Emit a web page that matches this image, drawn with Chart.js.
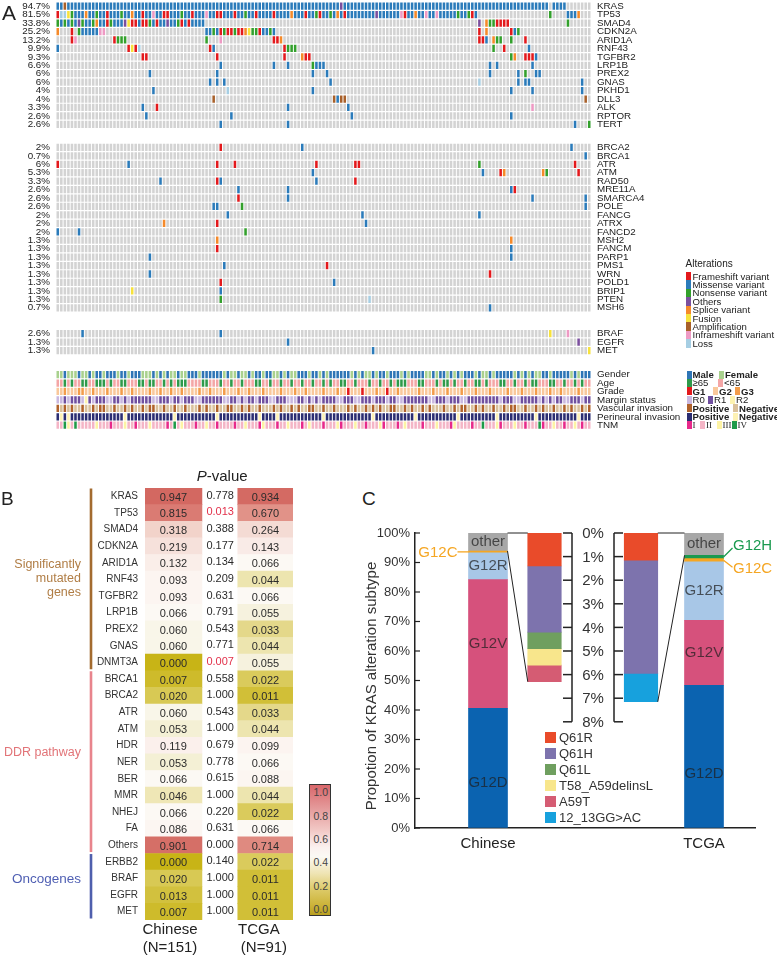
<!DOCTYPE html>
<html lang="en">
<head>
<meta charset="utf-8">
<title>KRAS oncoprint and comparison</title>
<script src="https://cdn.jsdelivr.net/npm/chart.js"></script>
<style>
  html,body{margin:0;padding:0;background:#fff;}
  body{position:relative;width:777px;height:959px;overflow:hidden;font-family:"Liberation Sans",Arial,Helvetica,sans-serif;color:#222;}
  canvas{position:absolute;}
  .t{position:absolute;white-space:nowrap;line-height:1;}
  .sq{position:absolute;}
</style>
</head>
<body>
<canvas id="cA" width="777" height="436" style="left:0;top:0"></canvas>
<canvas id="cB" width="345" height="500" style="left:0;top:460px"></canvas>
<canvas id="cC" width="417" height="345" style="left:360px;top:510px"></canvas>
<div id="ov"></div>
<script>
const FONT = '"Liberation Sans", Arial, Helvetica, sans-serif';
Chart.defaults.font.family = FONT;
Chart.defaults.color = '#222';

/* ================= PANEL A DATA ================= */
const N_SAMPLES = 151;
const sampleIds = Array.from({length: N_SAMPLES}, (_, i) => 'P' + (i + 1));

const genesSMG = ['KRAS','TP53','SMAD4','CDKN2A','ARID1A','RNF43','TGFBR2','LRP1B','PREX2','GNAS','PKHD1','DLL3','ALK','RPTOR','TERT'];
const pctSMG = ['94.7%','81.5%','33.8%','25.2%','13.2%','9.9%','9.3%','6.6%','6%','6%','4%','4%','3.3%','2.6%','2.6%'];
const altSMG = [
  [[0,'MMAMMMMMMM MMMMMMMMMM MMMMMMMMMM MMMMMMMMMM MMMMMMMMMM MMMMMMMMMM MMMMMMMMMM MMMMMMMMMM OMMMMMMMMM MMMMMMMMMM MMMMMMMMMM MMMMMMMMMM MMMMMMMMMM MMMMMMMMM'],[140,'MMMM']],
  [[0,'FLLUNMMMSM MNMMFMMMNM MSMMFMMIMM FFMMMNMMFM MMIMMFFMMM FMMNMMFMMM MFMMMMSMMM FMMNFMMNMS MFMMMMMMMM OMMMMMMIFM MSMMIMMIMM MMMNMMNFM'],[139,'N....MMMS']],
  [[0,'NMNMNMONMM NSMMFNMMMO UFFMFFNMFM MOMMNFMFMM MM'],[119,'O.SNNFFFF'],[144,'N']],
  [[0,'S'],[4,'F.NMMMMMII'],[42,'MMNMFNFFNF FSUNNFMMNM'],[119,'F.S'],[128,'FMN']],
  [[4,'FI'],[16,'FNNN'],[42,'N'],[46,'I'],[61,'FFS'],[119,'FFM'],[123,'SN'],[125,'N'],[128,'N'],[132,'F']],
  [[0,'M'],[20,'FUFL'],[43,'FM'],[64,'FNNN'],[123,'N'],[126,'F'],[133,'M']],
  [[24,'FF'],[45,'F'],[64,'F'],[69,'SFF'],[128,'NS'],[132,'FFF'],[135,'M']],
  [[46,'M'],[61,'M'],[65,'M'],[72,'NMMM'],[122,'M'],[124,'M'],[134,'M']],
  [[26,'M'],[45,'M'],[72,'M'],[76,'M'],[122,'M'],[130,'M'],[132,'N'],[135,'MM']],
  [[43,'M'],[45,'M'],[47,'M'],[77,'M'],[119,'L'],[130,'M'],[132,'MM'],[148,'M']],
  [[27,'M'],[48,'L'],[72,'M'],[128,'M'],[134,'M'],[148,'M']],
  [[44,'A'],[78,'AMAA'],[149,'A']],
  [[24,'M'],[28,'F'],[65,'M'],[82,'M'],[134,'I']],
  [[25,'M'],[49,'M'],[83,'M'],[128,'M']],
  [[46,'M'],[65,'M'],[146,'M'],[150,'N']]
];

const genesDDR = ['BRCA2','BRCA1','ATR','ATM','RAD50','MRE11A','SMARCA4','POLE','FANCG','ATRX','FANCD2','MSH2','FANCM','PARP1','PMS1','WRN','POLD1','BRIP1','PTEN','MSH6'];
const pctDDR = ['2%','0.7%','6%','5.3%','3.3%','2.6%','2.6%','2.6%','2%','2%','2%','1.3%','1.3%','1.3%','1.3%','1.3%','1.3%','1.3%','1.3%','0.7%'];
const altDDR = [
  [[46,'F'],[69,'M'],[145,'M']],
  [[149,'M']],
  [[0,'F'],[20,'M'],[45,'F'],[50,'F'],[73,'F'],[84,'FF'],[119,'N'],[146,'F']],
  [[72,'M'],[120,'M'],[125,'FS'],[137,'SN'],[147,'F']],
  [[29,'M'],[45,'FM'],[73,'M'],[84,'F']],
  [[51,'M'],[65,'M'],[128,'MF']],
  [[51,'F'],[65,'M'],[134,'M'],[149,'M']],
  [[44,'MM'],[52,'N'],[149,'M']],
  [[48,'M'],[86,'M'],[119,'M']],
  [[30,'S'],[45,'F'],[87,'M']],
  [[0,'M'],[6,'M'],[53,'N']],
  [[45,'S'],[128,'S']],
  [[45,'F'],[128,'M']],
  [[26,'M'],[128,'M']],
  [[47,'M'],[76,'F']],
  [[26,'M'],[122,'F']],
  [[46,'F'],[78,'M']],
  [[21,'U'],[46,'M']],
  [[46,'N'],[88,'L']],
  [[122,'M']]
];

const genesOnc = ['BRAF','EGFR','MET'];
const pctOnc = ['2.6%','1.3%','1.3%'];
const altOnc = [
  [[7,'M'],[46,'M'],[139,'U'],[144,'I']],
  [[65,'M'],[147,'O']],
  [[89,'M'],[150,'U']]
];

const altTypes  = ['F','M','N','O','S','U','A','I','L'];
const altLabels = ['Frameshift variant','Missense variant','Nonsense variant','Others','Splice variant','Fusion','Amplification','Inframeshift variant','Loss'];
const altColors = ['#e3191c','#2b7bba','#33a02c','#7b4f9e','#f58a2a','#f7e23b','#a8602a','#ee9ac4','#a6cee3'];

const annoNames = ['Gender','Age','Grade','Margin status','Vascular invasion','Perineural invasion','TNM'];
const annoTracks = [
  'ffmfffmffm fmmfmmmfmm fmmmfffmfm fmffmffmmm fmmmmmmfmf fmffmfmmfm mffmfmffmm mfmmfmfmmm mmmfmfmffm fmmfmmmfmf mmmmffmfmm fmfmfmmmfm ffmfmmmmmf mfmfmffmmf mmmmmfmfmm m',
  'yyoyoyyooy yoooyoyyoo yyyooyooyy oyoyoooyyy yooyyyoyyo yyoyyyooyy oyyoyyoyyo yyoyyoyoyy ooyyoyyyoy yoyyoyoooy yyooyyyoyo oyoyyoyyoo yoyyyooyyo yyoyooyyyo oyyoyyoyoy y',
  '2232223322 3222322232 2322223223 2232232222 3223222322 2322322232 2223222322 3222232223 2212221222 3221223222 2232223222 3222322232 2232222322 2322232223 2232222322 2',
  'aababbbacb abbbaabbab abbbbbbaab bbabbabbba abbbbbbaab bababbabbb aabbbaaabb abababbbba abbbaabbba bbbabbaabb bbbbbaabbb abbbaabbbb bbbbbabbba abbbbbabab abbaabbbab b',
  'pnpnpnnpnn pnppnnpnnp npnnpnppnn pnnpnnpnnn pnpnnpnnpp nnpnpnnpnn npnpnnpnpn nppnnpnnpn nnpnpnnpnp npnnppnnpn pnnpnpnnnp nnpnppnnpn pnnpnnpnpp nnpnnpnpnn pnnpnpnnpn p',
  'pnpnpppppp pppppppppn pppppppppp pppnpppppp pppppnpppp pppppppnpp ppnppppppp pppppnpppp pppppppppn pppppppppp pnpppppppp pppnpppppp ppppnppppp pppppnpppp pppppppnpp p',
  '2243242222 2322212223 2212223222 2124232221 2232212222 1223222132 2212232221 2322212223 1222322122 2312221232 2221222322 2132222122 4222312223 2212224122 3221223212 2'
];
const annoCodes  = [['m','f'],['o','y'],['1','2','3'],['a','b','c'],['p','n'],['p','n'],['1','2','3','4']];
const annoLabels = [['Male','Female'],['\u226565','<65'],['G1','G2','G3'],['R0','R1','R2'],['Positive','Negative'],['Positive','Negative'],['I','II','III','IV']];
const annoColors = [
  ['#2e75b6','#a9d18e'],
  ['#2e9a4a','#f4a6a6'],
  ['#e3191c','#f9c89b','#f39c4a'],
  ['#c9b8e0','#6f4f9f','#fdf3b0'],
  ['#b0622b','#d9c09a'],
  ['#2b2d72','#fdf1b4'],
  ['#e7298a','#f4b5c6','#fdf3a4','#1f9a48']
];
const annoBold = [true,false,true,false,true,true,false];

/* ================= PANEL B DATA ================= */
const genesB = ['KRAS','TP53','SMAD4','CDKN2A','ARID1A','RNF43','TGFBR2','LRP1B','PREX2','GNAS','DNMT3A','BRCA1','BRCA2','ATR','ATM','HDR','NER','BER','MMR','NHEJ','FA','Others','ERBB2','BRAF','EGFR','MET'];
const chineseP = [0.947,0.815,0.318,0.219,0.132,0.093,0.093,0.066,0.060,0.060,0.000,0.007,0.020,0.060,0.053,0.119,0.053,0.066,0.046,0.066,0.086,0.901,0.000,0.020,0.013,0.007];
const pValues  = [0.778,0.013,0.388,0.177,0.134,0.209,0.631,0.791,0.543,0.771,0.007,0.558,1.000,0.543,1.000,0.679,0.778,0.615,1.000,0.220,0.631,0.000,0.140,1.000,1.000,1.000];
const tcgaP    = [0.934,0.670,0.264,0.143,0.066,0.044,0.066,0.055,0.033,0.044,0.055,0.022,0.011,0.033,0.044,0.099,0.066,0.088,0.044,0.022,0.066,0.714,0.022,0.011,0.011,0.011];
const colLabelsB = [['Chinese','(N=151)'],['TCGA','(N=91)']];
const colorbarTicks = ['1.0','0.8','0.6','0.4','0.2','0.0'];

/* ================= PANEL C DATA ================= */
const kMain = ['G12D','G12V','G12R','G12C','G12H','other'];
const kMainChinese = [40.6, 43.6, 9.1, 0.6, 0, 6.1];
const kMainTCGA    = [48.4, 22.0, 19.8, 1.1, 1.1, 7.6];
const kInset = ['Q61R','Q61H','Q61L','T58_A59delinsL','A59T','12_13GG>AC'];
const kInsetChinese = [1.4, 2.8, 0.7, 0.7, 0.7, 0];
const kInsetTCGA    = [1.15, 4.8, 0, 0, 0, 1.2];
const cohortsC = ['Chinese','TCGA'];
const mainTickPct = 10;
const insetTicks = [0,1,2,3,4,5,6,7,8];

/* ================= HELPERS ================= */
const ov = document.getElementById('ov');
function addText(txt, x, cy, size, o = {}) {
  const d = document.createElement('div');
  d.className = 't'; d.textContent = txt;
  d.style.left = x + 'px'; d.style.top = (cy - size / 2) + 'px'; d.style.fontSize = size + 'px';
  if (o.bold) d.style.fontWeight = 'bold';
  if (o.color) d.style.color = o.color;
  if (o.family) d.style.fontFamily = o.family;
  ov.appendChild(d); return d;
}
function addBox(x, y, w, h, color, border) {
  const d = document.createElement('div');
  d.className = 'sq';
  Object.assign(d.style, {left: x + 'px', top: y + 'px', width: w + 'px', height: h + 'px', background: color});
  if (border) { d.style.border = border; d.style.boxSizing = 'border-box'; }
  ov.appendChild(d); return d;
}

/* ================= PANEL A CHART ================= */
const GREY = '#d3d3d3';
const CELL_PAD = 0.07;
const blockTops = [0, 16.73, 38.8];
const annoTop = 43.65;
const Y_MAX_A = 50.75;

function expandRow(segs) {
  const out = new Array(N_SAMPLES).fill('.');
  segs.forEach(([start, s]) => {
    const str = s.replace(/\s/g, '');
    for (let k = 0; k < str.length; k++) {
      const c = start + k;
      if (c < N_SAMPLES && str[k] !== '.') out[c] = str[k];
    }
  });
  return out;
}
const rowsA = [];
[[genesSMG, pctSMG, altSMG], [genesDDR, pctDDR, altDDR], [genesOnc, pctOnc, altOnc]].forEach(([g, p, a], b) => {
  g.forEach((name, i) => rowsA.push({
    name, pct: p[i], top: blockTops[b] + i,
    colors: expandRow(a[i]).map(c => c === '.' ? GREY : altColors[altTypes.indexOf(c)])
  }));
});
annoNames.forEach((name, i) => {
  const codes = annoTracks[i].replace(/\s/g, '').split('');
  rowsA.push({
    name, pct: '', top: annoTop + i,
    colors: sampleIds.map((_, j) => annoColors[i][annoCodes[i].indexOf(codes[j])] || GREY)
  });
});
const leftRows = rowsA.filter(r => r.pct);

const chartA = new Chart(document.getElementById('cA'), {
  type: 'bar',
  data: {
    labels: sampleIds,
    datasets: rowsA.map(r => ({
      label: r.name,
      data: sampleIds.map(() => [r.top + CELL_PAD, r.top + 1 - CELL_PAD]),
      backgroundColor: r.colors,
      borderWidth: 0, grouped: false, barPercentage: 0.72, categoryPercentage: 1
    }))
  },
  options: {
    responsive: false, animation: false, events: [],
    layout: {padding: {top: 2, bottom: 5.7, left: 0, right: 0}},
    plugins: {legend: {display: false}, tooltip: {enabled: false}},
    scales: {
      x: {type: 'category', display: false, offset: true},
      y: {
        type: 'linear', position: 'left', min: 0, max: Y_MAX_A, reverse: true,
        grid: {display: false, drawTicks: false}, border: {display: false},
        afterBuildTicks(s) { s.ticks = leftRows.map(r => ({value: r.top + 0.5})); },
        afterFit(s) { s.width = 56; s.paddingTop = 0; s.paddingBottom = 0; },
        ticks: {autoSkip: false, padding: 6, color: '#222', font: {size: 9.8}, callback: (v, i) => leftRows[i] ? leftRows[i].pct : ''}
      },
      yR: {
        type: 'linear', position: 'right', min: 0, max: Y_MAX_A, reverse: true,
        grid: {display: false, drawTicks: false}, border: {display: false},
        afterBuildTicks(s) { s.ticks = rowsA.map(r => ({value: r.top + 0.5})); },
        afterFit(s) { s.width = 186; s.paddingTop = 0; s.paddingBottom = 0; },
        ticks: {autoSkip: false, padding: 6, color: '#222', font: {size: 9.8}, callback: (v, i) => rowsA[i] ? rowsA[i].name : ''}
      }
    }
  }
});

// Panel A legends
addText('A', 2, 12, 21);
addText('Alterations', 685.5, 264, 10);
altLabels.forEach((lab, i) => {
  addBox(686, 272 + i * 8.4, 5, 8.4, altColors[i]);
  addText(lab, 692.5, 276.4 + i * 8.4, 9.6);
});
const annoLegendX = [[686.5,719],[686.5,718],[686.5,713,735],[686.5,708,730],[686.5,733],[686.5,733],[686.5,700,716.5,731.5]];
annoLabels.forEach((labs, i) => {
  const cy = chartA.scales.y.getPixelForValue(annoTop + i + 0.5);
  labs.forEach((lab, k) => {
    const x = annoLegendX[i][k];
    addBox(x, cy - 4, 5, 8, annoColors[i][k]);
    addText(lab, x + 6, cy, i === 6 ? 9 : 9.6, {bold: annoBold[i], family: i === 6 ? '"Liberation Serif", serif' : null});
  });
});

/* ================= PANEL B CHART ================= */
const HEAT_STOPS = [[0,[200,180,22]],[0.01,[208,190,52]],[0.02,[216,201,84]],[0.033,[228,216,138]],[0.045,[238,230,178]],[0.055,[246,242,222]],[0.065,[252,249,244]],[0.1,[252,244,240]],[0.15,[249,234,229]],[0.25,[245,221,214]],[0.35,[240,206,197]],[0.7,[224,140,130]],[0.85,[216,118,110]],[1,[208,96,90]]];
function heat(v) {
  for (let i = 1; i < HEAT_STOPS.length; i++) {
    const [v0, c0] = HEAT_STOPS[i - 1], [v1, c1] = HEAT_STOPS[i];
    if (v <= v1) {
      const t = (v - v0) / (v1 - v0);
      return 'rgb(' + c0.map((c, k) => Math.round(c + (c1[k] - c) * t)).join(',') + ')';
    }
  }
  return 'rgb(208,96,90)';
}
const COL_B = {chinese: [0, 1], p: 1.32, tcga: [1.63, 2.6], max: 2.6, labelX: [[0.44, 0.44], [2.0, 2.09]]};
const BRACKET_X = 91;
const groupsB = [
  {lines: ['Significantly', 'mutated', 'genes'], from: 0, to: 10, bar: '#a36b2f', text: '#b07d45', dy: 0, size: 12.5},
  {lines: ['DDR pathway'], from: 11, to: 21, bar: '#e8848c', text: '#e27478', dy: -9, size: 12.5},
  {lines: ['Oncogenes'], from: 22, to: 25, bar: '#4f5fad', text: '#4f5fb3', dy: -7, size: 13.5}
];
const pluginB = {
  id: 'pB',
  afterDatasetsDraw(chart) {
    const {ctx, chartArea} = chart;
    const xs = chart.scales.x, ys = chart.scales.y;
    const m0 = chart.getDatasetMeta(0), m1 = chart.getDatasetMeta(1);
    ctx.save();
    ctx.textAlign = 'center'; ctx.textBaseline = 'middle';
    ctx.font = '11px ' + FONT;
    genesB.forEach((g, i) => {
      const y = ys.getPixelForValue(i);
      const a = m0.data[i], b = m1.data[i];
      ctx.fillStyle = '#2b2b2b';
      ctx.fillText(chineseP[i].toFixed(3), (a.x + a.base) / 2, y + 1.5);
      ctx.fillText(tcgaP[i].toFixed(3), (b.x + b.base) / 2, y + 1.5);
      const p = pValues[i];
      ctx.fillStyle = (p > 0 && p < 0.05) ? '#e2304a' : '#2b2b2b';
      ctx.fillText(p.toFixed(3), xs.getPixelForValue(COL_B.p), y - 0.5);
    });
    const rowH = ys.getPixelForValue(1) - ys.getPixelForValue(0);
    groupsB.forEach(gr => {
      const y0 = ys.getPixelForValue(gr.from) - rowH / 2 + 0.5;
      const y1 = ys.getPixelForValue(gr.to) + rowH / 2 - 1.5;
      ctx.fillStyle = gr.bar;
      ctx.fillRect(BRACKET_X - 1.3, y0, 2.6, y1 - y0);
      ctx.fillStyle = gr.text; ctx.textAlign = 'right';
      ctx.font = gr.size + 'px ' + FONT;
      const cy = (y0 + y1) / 2 + gr.dy - (gr.lines.length - 1) * 7;
      gr.lines.forEach((ln, k) => ctx.fillText(ln, 81, cy + k * 14));
    });
    // title
    const ty = chartArea.top - 11.3;
    ctx.fillStyle = '#222'; ctx.textAlign = 'left';
    ctx.font = 'italic 15px ' + FONT; const wP = ctx.measureText('P').width;
    ctx.font = '15px ' + FONT; const wR = ctx.measureText('-value').width;
    const tx = xs.getPixelForValue(COL_B.p) + 2 - (wP + wR) / 2;
    ctx.font = 'italic 15px ' + FONT; ctx.fillText('P', tx, ty);
    ctx.font = '15px ' + FONT; ctx.fillText('-value', tx + wP, ty);
    // column labels
    ctx.textAlign = 'center'; ctx.font = '15px ' + FONT; ctx.fillStyle = '#222';
    colLabelsB.forEach((lines, c) => {
      lines.forEach((ln, k) => ctx.fillText(ln, xs.getPixelForValue(COL_B.labelX[c][k]), chartArea.bottom + 10 + k * 18));
    });
    ctx.restore();
  }
};
new Chart(document.getElementById('cB'), {
  type: 'bar',
  data: {
    labels: genesB,
    datasets: [
      {label: 'Chinese (N=151)', data: chineseP.map(() => COL_B.chinese.slice()), backgroundColor: chineseP.map(heat), borderWidth: 0, grouped: false, barPercentage: 1, categoryPercentage: 1},
      {label: 'TCGA (N=91)', data: tcgaP.map(() => COL_B.tcga.slice()), backgroundColor: tcgaP.map(heat), borderWidth: 0, grouped: false, barPercentage: 1, categoryPercentage: 1}
    ]
  },
  options: {
    indexAxis: 'y', responsive: false, animation: false, events: [],
    layout: {padding: {top: 28, bottom: 40, left: 0, right: 52}},
    plugins: {legend: {display: false}, tooltip: {enabled: false}},
    scales: {
      x: {type: 'linear', min: 0, max: COL_B.max, display: false},
      y: {
        type: 'category', grid: {display: false, drawTicks: false}, border: {display: false},
        ticks: {autoSkip: false, padding: 7, color: '#333', font: {size: 10}},
        afterFit(s) { s.width = 145; s.paddingTop = 0; s.paddingBottom = 0; }
      }
    }
  },
  plugins: [pluginB]
});
addText('B', 1, 498, 19);
// colour bar
addBox(308.5, 784, 22, 132, 'linear-gradient(to top, #b9a020 0%, #cdb43a 8%, #ddcb6a 20%, #efe4b4 32%, #fbf9f4 45%, #fbf1ef 52%, #f2c9c6 65%, #e6a0a0 80%, #d9676b 100%)', '1px solid #333');
colorbarTicks.forEach((lab, i) => addText(lab, 313.5, Math.min(792.5 + i * 23.4, 909), 10.5, {color: '#444'}));

/* ================= PANEL C CHART ================= */
const XPOS = {chinese: 73, chineseInset: 129.5, tcgaInset: 226, tcga: 289, axisL: 157, axisR: 199};
const MAIN_W = 39, INSET_W = 33.5;
const MAIN_COLORS = ['#0b63b0','#d6517c','#a8c7e7','#f5a623','#1a9a4f','#a7a7a7'];
const INSET_COLORS = ['#e94b2a','#7d73ad','#6f9f5f','#f8e68c','#d55c73','#17a1dd'];
const mainDs = kMain.map((name, k) => ({
  label: name,
  data: [{x: XPOS.chinese, y: kMainChinese[k]}, {x: XPOS.tcga, y: kMainTCGA[k]}].filter(d => d.y > 0),
  backgroundColor: MAIN_COLORS[k], yAxisID: 'y', stack: 'main', grouped: false, barThickness: MAIN_W, borderWidth: 0
}));
const insetDs = kInset.map((name, k) => ({
  label: name,
  data: [{x: XPOS.chineseInset, y: kInsetChinese[k]}, {x: XPOS.tcgaInset, y: kInsetTCGA[k]}].filter(d => d.y > 0),
  backgroundColor: INSET_COLORS[k], yAxisID: 'y2', stack: 'inset', grouped: false, barThickness: INSET_W, borderWidth: 0
}));
const sum = a => a.reduce((s, v) => s + v, 0);
const pluginC = {
  id: 'pC',
  afterDatasetsDraw(chart) {
    const {ctx, chartArea} = chart;
    const xs = chart.scales.x, ys = chart.scales.y, y2 = chart.scales.y2;
    const line = (x1, y1, x2, y2_) => { ctx.beginPath(); ctx.moveTo(x1, y1); ctx.lineTo(x2, y2_); ctx.stroke(); };
    ctx.save();
    ctx.strokeStyle = '#222'; ctx.lineWidth = 1.2;
    ys.ticks.forEach(t => { const y = ys.getPixelForValue(t.value); line(chartArea.left, y, chartArea.left + 5, y); });
    // inset axes
    const xl = xs.getPixelForValue(XPOS.axisL), xr = xs.getPixelForValue(XPOS.axisR);
    const yT = y2.getPixelForValue(insetTicks[0]), yB = y2.getPixelForValue(insetTicks[insetTicks.length - 1]);
    ctx.lineWidth = 1.5;
    line(xl, yT, xl, yB); line(xr, yT, xr, yB);
    ctx.fillStyle = '#333'; ctx.font = '15px ' + FONT; ctx.textAlign = 'center'; ctx.textBaseline = 'middle';
    insetTicks.forEach(v => {
      const y = y2.getPixelForValue(v);
      line(xl - 9, y, xl, y); line(xr, y, xr + 9, y);
      ctx.fillText(v + '%', (xl + xr) / 2, y + 1);
    });
    // connectors
    ctx.lineWidth = 1;
    const cR = xs.getPixelForValue(XPOS.chinese) + MAIN_W / 2, ciL = xs.getPixelForValue(XPOS.chineseInset) - INSET_W / 2;
    line(cR, ys.getPixelForValue(100), ciL, y2.getPixelForValue(0));
    line(cR, ys.getPixelForValue(100 - kMainChinese[5]), ciL, y2.getPixelForValue(sum(kInsetChinese)));
    const tL = xs.getPixelForValue(XPOS.tcga) - MAIN_W / 2, tiR = xs.getPixelForValue(XPOS.tcgaInset) + INSET_W / 2;
    line(tiR, y2.getPixelForValue(0), tL, ys.getPixelForValue(100));
    line(tiR, y2.getPixelForValue(sum(kInsetTCGA)), tL, ys.getPixelForValue(100 - kMainTCGA[5]));
    // labels inside bars
    ctx.font = '15px ' + FONT; ctx.fillStyle = 'rgba(30,30,30,0.72)';
    [[XPOS.chinese, kMainChinese], [XPOS.tcga, kMainTCGA]].forEach(([xp, vals]) => {
      let base = 0;
      vals.forEach((v, k) => {
        if ([0, 1, 2, 5].includes(k)) {
          const frac = k === 0 ? 0.38 : 0.5;
          ctx.fillText(kMain[k], xs.getPixelForValue(xp), ys.getPixelForValue(base + v * frac));
        }
        base += v;
      });
    });
    // callouts
    const cum = (vals, k) => sum(vals.slice(0, k)) + vals[k] / 2;
    const cL = xs.getPixelForValue(XPOS.chinese) - MAIN_W / 2;
    const yc = ys.getPixelForValue(cum(kMainChinese, 3));
    ctx.strokeStyle = MAIN_COLORS[3]; ctx.lineWidth = 1.3;
    line(cL - 11, yc, cL, yc);
    ctx.fillStyle = MAIN_COLORS[3]; ctx.textAlign = 'right';
    ctx.fillText(kMain[3], cL - 11, yc + 1);
    const tR = xs.getPixelForValue(XPOS.tcga) + MAIN_W / 2;
    const yh = ys.getPixelForValue(cum(kMainTCGA, 4)), yc2 = ys.getPixelForValue(cum(kMainTCGA, 3));
    ctx.textAlign = 'left';
    ctx.strokeStyle = MAIN_COLORS[4]; line(tR, yh, tR + 9, yh - 9);
    ctx.fillStyle = MAIN_COLORS[4]; ctx.fillText(kMain[4], tR + 9.5, yh - 11);
    ctx.strokeStyle = MAIN_COLORS[3]; line(tR, yc2, tR + 9, yc2 + 7);
    ctx.fillStyle = MAIN_COLORS[3]; ctx.fillText(kMain[3], tR + 9.5, yc2 + 8.5);
    // y title
    ctx.save();
    ctx.translate(11.5, 176); ctx.rotate(-Math.PI / 2);
    ctx.fillStyle = '#333'; ctx.textAlign = 'center'; ctx.font = '15px ' + FONT;
    ctx.fillText('Propotion of KRAS alteration subtype', 0, 0);
    ctx.restore();
    ctx.restore();
  }
};
new Chart(document.getElementById('cC'), {
  type: 'bar',
  data: {datasets: [...mainDs, ...insetDs]},
  options: {
    responsive: false, animation: false, events: [],
    layout: {padding: {top: 23, right: 22, left: 0, bottom: 0}},
    plugins: {legend: {display: false}, tooltip: {enabled: false}},
    scales: {
      x: {
        type: 'linear', min: 0, max: 340, offset: false,
        grid: {display: true, drawOnChartArea: false, drawTicks: false},
        border: {display: true, color: '#222', width: 1.5},
        afterBuildTicks(s) { s.ticks = [XPOS.chinese, XPOS.tcga].map(v => ({value: v})); },
        ticks: {autoSkip: false, maxRotation: 0, padding: 7, color: '#222', font: {size: 15}, callback: (v, i) => cohortsC[i]},
        afterFit(s) { s.height = 27; s.paddingLeft = 0; s.paddingRight = 0; }
      },
      y: {
        type: 'linear', position: 'left', min: 0, max: 100, stacked: true,
        grid: {display: true, drawOnChartArea: false, drawTicks: false},
        border: {display: true, color: '#222', width: 1.5},
        ticks: {stepSize: mainTickPct, padding: 5, color: '#333', font: {size: 13}, callback: v => v + '%'},
        afterFit(s) { s.width = 55; s.paddingTop = 0; s.paddingBottom = 0; }
      },
      y2: {type: 'linear', display: false, min: 0, max: 12.5, reverse: true, stacked: true}
    }
  },
  plugins: [pluginC]
});
addText('C', 362, 498, 19);
kInset.forEach((lab, i) => {
  const cy = 737 + i * 16;
  addBox(545, cy - 5.5, 11, 11, INSET_COLORS[i]);
  addText(lab, 559, cy, 13, {color: '#333'});
});
</script>
</body>
</html>
